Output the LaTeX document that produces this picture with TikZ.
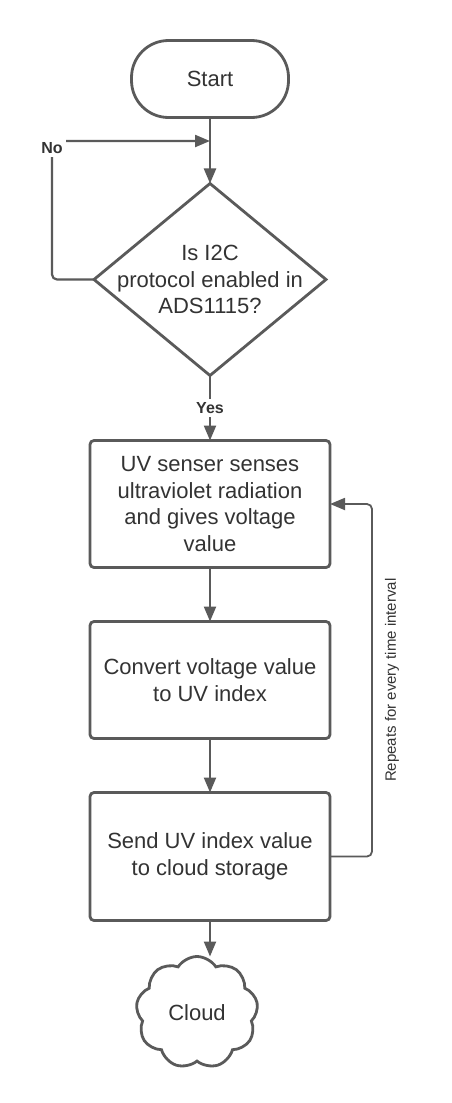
\documentclass[tikz,border=0pt]{standalone}
\usepackage{fontspec}
\setmainfont{Liberation Sans}
\usetikzlibrary{arrows.meta,positioning,shapes.geometric,shapes.symbols}
\definecolor{edge}{HTML}{5A5A5A}
\definecolor{ink}{HTML}{333333}

\begin{document}
\begin{tikzpicture}[x=1pt, y=-1pt, >={Triangle[length=15pt,width=12pt]}]
\tikzstyle{base}=[draw=edge, line width=2.8pt, outer sep=0pt, text=ink, align=center,
                  font=\fontsize{22}{26.5}\selectfont]
\tikzstyle{term}=[base, rounded corners=37pt, minimum width=157pt, minimum height=77pt]
\tikzstyle{dec}=[base, diamond, aspect=1.2, inner sep=-11.4pt,
                 minimum width=232pt, minimum height=192pt]
\tikzstyle{proc}=[base, rounded corners=4pt, minimum width=240pt]
\tikzstyle{store}=[base, cloud, cloud puffs=9, cloud puff arc=115, aspect=1.1,
                   inner sep=0pt, minimum width=122pt, minimum height=112pt]
\tikzstyle{arr}=[->, draw=edge, line width=2.2pt]
\tikzstyle{lbl}=[text=ink, font=\fontsize{16}{18}\selectfont\bfseries]

\useasboundingbox[fill=white] (0,0) rectangle (451,1103);

\node[term] (start) at (210,79) {Start};
\node[dec, below=66pt of start] (check) {Is I2C\\protocol enabled in\\ADS1115?};
\node[proc, below=65pt of check, minimum height=127pt] (sense)
  {UV senser senses\\ultraviolet radiation\\and gives voltage\\value};
\node[proc, below=54pt of sense, minimum height=117pt] (conv)
  {Convert voltage value\\to UV index};
\node[proc, below=54pt of conv, minimum height=128pt] (send)
  {Send UV index value\\to cloud storage};
\node[store, below=36pt of send, xshift=-13pt] (cloud) {Cloud};

\coordinate (nocorner) at (52,141);
\coordinate (join) at (210,141);

\draw[arr] (start) -- (check);
\draw[arr, rounded corners=5pt] (check.west) -| (nocorner) -- (join);
\node[lbl, fill=white, inner sep=3pt, yshift=-7pt] (no) at (nocorner) {No};
\draw[arr] (check) -- (sense)
  node[midway, lbl, fill=white, inner sep=3pt] {Yes};
\draw[arr] (sense) -- (conv);
\draw[arr] (conv) -- (send);
\draw[arr] (send.south) -- (send.south |- cloud.north);
\draw[arr, line width=1.8pt, rounded corners=5pt] (send.east) -- ++(42,0) |- (sense.east)
  node[pos=0.25, rotate=90, anchor=north, inner sep=12pt, text=ink,
       font=\fontsize{15}{17}\selectfont] {Repeats for every time interval};

\end{tikzpicture}
\end{document}
